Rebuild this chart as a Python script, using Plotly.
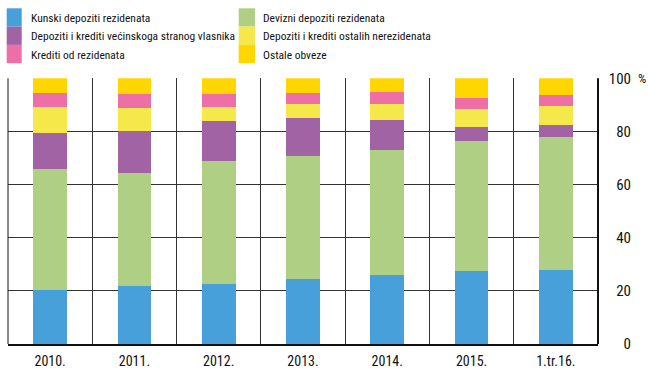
import plotly.graph_objects as go

W, H = 648, 369

categories = ["2010.", "2011.", "2012.", "2013.", "2014.", "2015.", "1.tr.16."]

kunski_rez = [20.3, 21.9, 22.5, 24.5, 25.9, 27.5, 27.8]
devizni_rez = [45.4, 42.6, 46.2, 46.4, 47.2, 49.0, 50.0]
stranog_vlasnika = [13.9, 15.5, 15.3, 14.1, 11.3, 5.3, 4.5]
ostalih_nerez = [9.6, 8.9, 5.2, 5.2, 6.0, 6.8, 7.3]
krediti_rez = [5.4, 5.2, 5.0, 4.4, 4.5, 4.0, 4.2]
ostale_obveze = [5.4, 5.9, 5.8, 5.4, 5.1, 7.4, 6.2]

y_ticks = [0, 20, 40, 60, 80, 100]

series = [
    ("Kunski depoziti rezidenata", kunski_rez, "#48A0DA"),
    ("Devizni depoziti rezidenata", devizni_rez, "#AFD084"),
    ("Depoziti i krediti većinskoga stranog vlasnika", stranog_vlasnika, "#A263A4"),
    ("Depoziti i krediti ostalih nerezidenata", ostalih_nerez, "#F5E84A"),
    ("Krediti od rezidenata", krediti_rez, "#EE6EA6"),
    ("Ostale obveze", ostale_obveze, "#FFD600"),
]

FONT = "Roboto Condensed, DejaVu Sans Condensed, sans-serif"

fig = go.Figure()
for name, vals, color in series:
    fig.add_trace(go.Bar(
        x=categories, y=vals, name=name,
        marker=dict(color=color, line=dict(width=0)),
        showlegend=False,
    ))

# plot area in pixels
left, right, top, bottom = 8, 598, 78.3, 344


def px(x):
    return x / W


def py(y):
    return 1 - y / H


fig.update_layout(
    width=W, height=H,
    margin=dict(l=0, r=0, t=0, b=0),
    barmode="stack",
    bargap=0.6,
    plot_bgcolor="white",
    paper_bgcolor="white",
    font=dict(family=FONT, size=14, color="#111111"),
    xaxis=dict(
        domain=[px(left), px(right)],
        showgrid=True, gridcolor="#333333", gridwidth=1,
        tickson="boundaries",
        showline=True, linecolor="#111111", linewidth=2,
        ticks="", ticklabelstandoff=3,
        automargin=False,
        tickfont=dict(family=FONT, size=14),
    ),
    yaxis=dict(
        domain=[py(bottom), py(top)],
        range=[0, 100],
        tickvals=y_ticks,
        showgrid=True, gridcolor="#333333", gridwidth=1,
        zeroline=False, showline=False,
        anchor="free", side="left", position=px(631),
        ticks="", automargin=False,
        tickfont=dict(family=FONT, size=15),
    ),
)

# frame lines at the left and right edges of the plot area
fig.add_shape(type="line", xref="x domain", yref="y domain", x0=0, x1=0, y0=0, y1=1,
              line=dict(color="#111111", width=1))
fig.add_shape(type="line", xref="x domain", yref="y domain", x0=1, x1=1, y0=0, y1=1,
              line=dict(color="#111111", width=2))

fig.add_annotation(text="%", xref="paper", yref="paper", x=px(636), y=py(top),
                   xanchor="left", yanchor="middle", showarrow=False,
                   font=dict(family=FONT, size=13))

# legend: two columns of tall swatches
row_h = 18.3
cols = [(6.7, 21.7, 28.5), (238.7, 255.0, 260.5)]
order = [[0, 2, 4], [1, 3, 5]]
for ci, idxs in enumerate(order):
    sx0, sx1, tx = cols[ci]
    for ri, si in enumerate(idxs):
        name, _, color = series[si]
        y0 = 8.3 + ri * row_h
        y1 = y0 + row_h
        fig.add_shape(type="rect", xref="paper", yref="paper",
                      x0=px(sx0), x1=px(sx1), y0=py(y1), y1=py(y0),
                      fillcolor=color, line=dict(width=0))
        fig.add_annotation(text=name, xref="paper", yref="paper",
                           x=px(tx), y=py((y0 + y1) / 2 + 0.5),
                           xanchor="left", yanchor="middle", showarrow=False,
                           font=dict(family=FONT, size=11.5))

fig.write_html("out.html")
